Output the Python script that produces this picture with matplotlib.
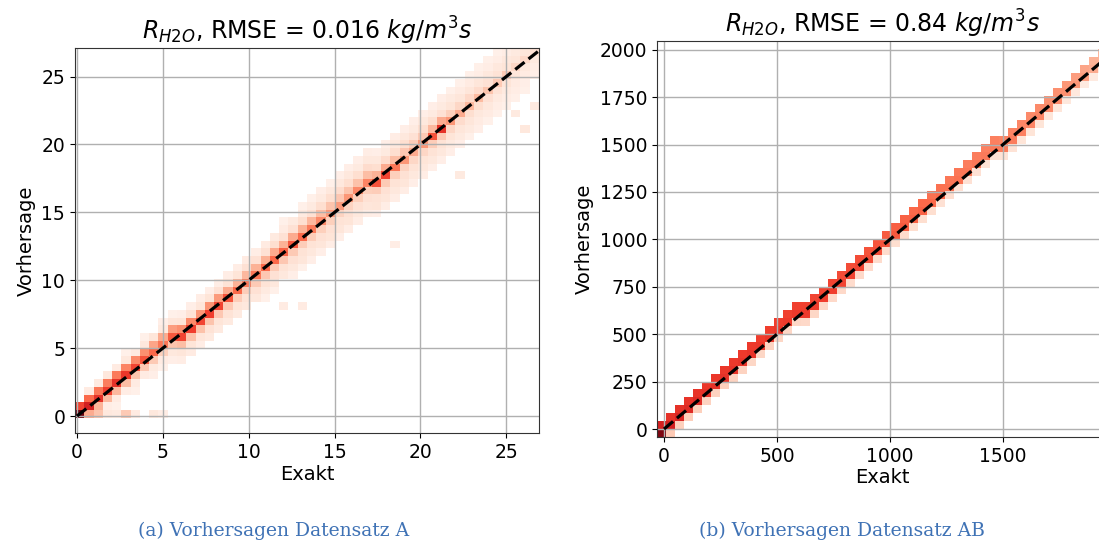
import numpy as np
import matplotlib
matplotlib.use("Agg")
import matplotlib.pyplot as plt

# ---------------- data: panel A (Datensatz A) ----------------
a_xrange = (-0.12, 26.9)
a_yrange = (-1.25, 27.1)
a_nx, a_ny = 50, 50
# colour intensity (0..1 on Reds) of the diagonal cell per x-column
a_diag = [1.0, 0.72, 0.66, 0.62, 0.66, 0.64, 0.6, 0.56, 0.5, 0.46,
          0.55, 0.6, 0.62, 0.6, 0.62, 0.6, 0.56, 0.5, 0.45, 0.46,
          0.5, 0.5, 0.52, 0.55, 0.5, 0.45, 0.4, 0.36, 0.35, 0.36,
          0.4, 0.42, 0.56, 0.6, 0.46, 0.36, 0.3, 0.36, 0.56, 0.66,
          0.36, 0.3, 0.26, 0.25, 0.22, 0.2, 0.2, 0.16, 0.15, 0.12]
a_up1 = [0.6, 0.5, 0.46, 0.44, 0.45, 0.42, 0.4, 0.38, 0.32, 0.3,
         0.34, 0.38, 0.4, 0.36, 0.37, 0.35, 0.3, 0.28, 0.26, 0.28,
         0.28, 0.3, 0.28, 0.3, 0.28, 0.26, 0.24, 0.22, 0.21, 0.22,
         0.23, 0.24, 0.28, 0.3, 0.24, 0.21, 0.19, 0.2, 0.26, 0.3,
         0.18, 0.16, 0.15, 0.14, 0.12, 0.11, 0.1, 0.09, 0.09, 0.08]
a_dn1 = [0.0, 0.3, 0.27, 0.25, 0.26, 0.24, 0.22, 0.21, 0.2, 0.18,
         0.22, 0.24, 0.23, 0.23, 0.22, 0.21, 0.2, 0.19, 0.19, 0.2,
         0.21, 0.2, 0.21, 0.2, 0.19, 0.19, 0.18, 0.18, 0.17, 0.17,
         0.18, 0.18, 0.19, 0.2, 0.18, 0.17, 0.16, 0.16, 0.19, 0.2,
         0.16, 0.14, 0.13, 0.13, 0.12, 0.11, 0.1, 0.09, 0.08, 0.07]
a_up2 = [0.0, 0.06, 0.07, 0.08, 0.06, 0.08, 0.07, 0.08, 0.09, 0.07,
         0.09, 0.1, 0.11, 0.09, 0.1, 0.12, 0.11, 0.1, 0.12, 0.12,
         0.12, 0.13, 0.12, 0.12, 0.13, 0.12, 0.13, 0.13, 0.14, 0.13,
         0.13, 0.14, 0.13, 0.14, 0.13, 0.13, 0.12, 0.13, 0.13, 0.12,
         0.1, 0.09, 0.09, 0.09, 0.08, 0.08, 0.08, 0.07, 0.07, 0.06]
a_dn2 = [0.0, 0.0, 0.04, 0.05, 0.06, 0.05, 0.06, 0.06, 0.07, 0.06,
         0.08, 0.09, 0.1, 0.09, 0.11, 0.1, 0.11, 0.1, 0.11, 0.12,
         0.11, 0.12, 0.11, 0.12, 0.11, 0.11, 0.12, 0.12, 0.11, 0.12,
         0.12, 0.12, 0.11, 0.12, 0.11, 0.12, 0.11, 0.1, 0.11, 0.11,
         0.1, 0.09, 0.09, 0.08, 0.08, 0.07, 0.07, 0.06, 0.06, 0.05]
a_up3 = [0.0, 0.0, 0.0, 0.0, 0.0, 0.03, 0.0, 0.03, 0.0, 0.04,
         0.03, 0.04, 0.04, 0.05, 0.04, 0.05, 0.05, 0.05, 0.06, 0.05,
         0.06, 0.07, 0.06, 0.07, 0.07, 0.07, 0.07, 0.08, 0.08, 0.08,
         0.07, 0.08, 0.08, 0.07, 0.08, 0.08, 0.07, 0.08, 0.07, 0.07,
         0.07, 0.06, 0.06, 0.05, 0.05, 0.05, 0.05, 0.04, 0.04, 0.03]
a_dn3 = [0.0, 0.0, 0.0, 0.0, 0.03, 0.0, 0.03, 0.0, 0.04, 0.03,
         0.04, 0.05, 0.06, 0.05, 0.07, 0.07, 0.07, 0.07, 0.08, 0.08,
         0.07, 0.08, 0.08, 0.08, 0.09, 0.08, 0.09, 0.1, 0.09, 0.1,
         0.08, 0.09, 0.1, 0.09, 0.08, 0.09, 0.08, 0.08, 0.08, 0.08,
         0.07, 0.07, 0.07, 0.06, 0.06, 0.05, 0.05, 0.05, 0.04, 0.04]
a_up4 = [0.0] * 22 + [0.03, 0.0, 0.03, 0.03, 0.04, 0.03, 0.04, 0.04,
                      0.04, 0.05, 0.04, 0.04, 0.05, 0.04, 0.04, 0.04,
                      0.04, 0.04, 0.03, 0.03, 0.03, 0.03, 0.03, 0.03,
                      0.03, 0.0, 0.03, 0.0]
a_dn4 = [0.0] * 20 + [0.03, 0.03, 0.0, 0.04, 0.03, 0.04, 0.04, 0.05,
                      0.04, 0.05, 0.05, 0.05, 0.04, 0.05, 0.05, 0.05,
                      0.04, 0.05, 0.04, 0.04, 0.04, 0.04, 0.03, 0.04,
                      0.03, 0.03, 0.03, 0.03, 0.03, 0.0]
# scattered extra cells (x, y, intensity)
a_out_x = [1.0, 1.6, 2.2, 2.9, 3.5, 4.3, 5.1, 12.1, 13.1, 18.4, 22.3, 25.5, 25.9, 26.5]
a_out_y = [0.1, 0.1, 0.1, 0.1, 0.1, 0.1, 0.1, 8.3, 8.3, 12.5, 17.5, 22.4, 21.3, 22.7]
a_out_v = [0.22, 0.08, 0.07, 0.2, 0.06, 0.08, 0.05, 0.06, 0.06, 0.05, 0.07, 0.07, 0.08, 0.07]

# ---------------- data: panel B (Datensatz AB) ----------------
b_xrange = (-31.0, 1960.0)
b_yrange = (-42.0, 2046.0)
b_nx, b_ny = 50, 50
b_diag = [0.95, 0.72, 0.7, 0.68, 0.68, 0.66, 0.66, 0.66, 0.65, 0.65,
          0.65, 0.64, 0.64, 0.64, 0.63, 0.63, 0.63, 0.62, 0.62, 0.62,
          0.6, 0.6, 0.6, 0.58, 0.58, 0.56, 0.55, 0.54, 0.52, 0.52,
          0.5, 0.5, 0.48, 0.48, 0.46, 0.46, 0.45, 0.45, 0.44, 0.44,
          0.43, 0.42, 0.42, 0.4, 0.4, 0.38, 0.36, 0.34, 0.3, 0.28]
b_up1 = [0.72, 0.66, 0.66, 0.65, 0.65, 0.64, 0.64, 0.64, 0.63, 0.63,
         0.63, 0.62, 0.62, 0.62, 0.61, 0.61, 0.61, 0.6, 0.6, 0.6,
         0.58, 0.58, 0.58, 0.56, 0.56, 0.54, 0.53, 0.52, 0.5, 0.5,
         0.48, 0.48, 0.46, 0.46, 0.44, 0.44, 0.43, 0.43, 0.42, 0.42,
         0.41, 0.4, 0.4, 0.38, 0.38, 0.36, 0.34, 0.32, 0.28, 0.26]
b_dn1 = [0.0, 0.2, 0.18, 0.18, 0.18, 0.17, 0.17, 0.18, 0.17, 0.17,
         0.16, 0.16, 0.17, 0.16, 0.16, 0.16, 0.15, 0.16, 0.15, 0.15,
         0.15, 0.14, 0.15, 0.14, 0.14, 0.14, 0.13, 0.14, 0.13, 0.13,
         0.13, 0.12, 0.13, 0.12, 0.12, 0.12, 0.11, 0.12, 0.11, 0.11,
         0.1, 0.1, 0.1, 0.09, 0.09, 0.08, 0.08, 0.07, 0.07, 0.06]

titles = [r"$R_{H2O}$, RMSE = 0.016 $kg/m^3s$",
          r"$R_{H2O}$, RMSE = 0.84 $kg/m^3s$"]
captions = ["(a) Vorhersagen Datensatz A", "(b) Vorhersagen Datensatz AB"]
a_xticks = [0, 5, 10, 15, 20, 25]
a_yticks = [0, 5, 10, 15, 20, 25]
b_xticks = [0, 500, 1000, 1500]
b_yticks = [0, 250, 500, 750, 1000, 1250, 1500, 1750, 2000]


def build(xr, yr, nx, ny, bands, ox=(), oy=(), ov=()):
    xe = np.linspace(xr[0], xr[1], nx + 1)
    ye = np.linspace(yr[0], yr[1], ny + 1)
    M = np.zeros((ny, nx))
    xc = 0.5 * (xe[:-1] + xe[1:])
    for i in range(nx):
        j0 = int(np.clip(np.searchsorted(ye, xc[i]) - 1, 0, ny - 1))
        for off, arr in bands:
            j = j0 + off
            if 0 <= j < ny and arr[i] > 0:
                M[j, i] = max(M[j, i], arr[i])
    for x, y, v in zip(ox, oy, ov):
        i = int(np.clip(np.searchsorted(xe, x) - 1, 0, nx - 1))
        j = int(np.clip(np.searchsorted(ye, y) - 1, 0, ny - 1))
        M[j, i] = max(M[j, i], v)
    return xe, ye, np.ma.masked_equal(M, 0)


fig = plt.figure(figsize=(10.99, 5.47), dpi=100)
axA = fig.add_axes([0.0682, 0.2084, 0.4222, 0.7038])
axB = fig.add_axes([0.5978, 0.2011, 0.4095, 0.7240])

xeA, yeA, MA = build(a_xrange, a_yrange, a_nx, a_ny,
                     [(0, a_diag), (1, a_up1), (-1, a_dn1), (2, a_up2), (-2, a_dn2),
                      (3, a_up3), (-3, a_dn3), (4, a_up4), (-4, a_dn4)],
                     a_out_x, a_out_y, a_out_v)
xeB, yeB, MB = build(b_xrange, b_yrange, b_nx, b_ny,
                     [(0, b_diag), (1, b_up1), (-1, b_dn1)])

for ax, (xe, ye, M), title, xt, yt, xr, yr in [
        (axA, (xeA, yeA, MA), titles[0], a_xticks, a_yticks, a_xrange, a_yrange),
        (axB, (xeB, yeB, MB), titles[1], b_xticks, b_yticks, b_xrange, b_yrange)]:
    ax.pcolormesh(xe, ye, M, cmap="Reds", vmin=0, vmax=1, zorder=1)
    lo, hi = 0, max(xr[1], yr[1])
    ax.plot([lo, hi], [lo, hi], "k--", lw=2.3, zorder=3)
    ax.set_xlim(xr)
    ax.set_ylim(yr)
    ax.set_xticks(xt)
    ax.set_yticks(yt)
    ax.grid(True, color="#b0b0b0", lw=1.0)
    ax.tick_params(labelsize=13.5)
    ax.set_xlabel("Exakt", fontsize=14, labelpad=2)
    ax.set_ylabel("Vorhersage", fontsize=14)
    ax.set_title(title, fontsize=17)
    for s in ax.spines.values():
        s.set_color("#333333")

fig.text(0.2493, 0.03, captions[0], ha="center", va="center",
         fontsize=13.5, color="#3f72b5", family="DejaVu Serif")
fig.text(0.7661, 0.03, captions[1], ha="center", va="center",
         fontsize=13.5, color="#3f72b5", family="DejaVu Serif")

fig.savefig("out.png", dpi=100)
